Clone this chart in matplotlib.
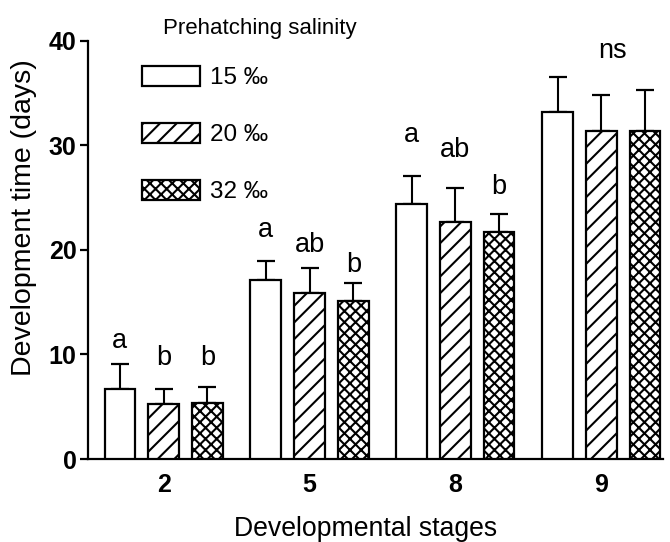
import matplotlib
matplotlib.use('Agg')
import matplotlib.pyplot as plt
import numpy as np

plt.rcParams['font.family'] = ['Liberation Sans', 'DejaVu Sans']
plt.rcParams['hatch.linewidth'] = 1.5

stages = ['2', '5', '8', '9']
salinities = ['15 ‰', '20 ‰', '32 ‰']

mean_15 = [6.7, 17.1, 24.4, 33.2]
mean_20 = [5.3, 15.9, 22.7, 31.4]
mean_32 = [5.35, 15.1, 21.7, 31.4]

se_15 = [2.4, 1.8, 2.7, 3.3]
se_20 = [1.4, 2.4, 3.2, 3.4]
se_32 = [1.55, 1.7, 1.7, 3.9]

letters_15 = ['a', 'a', 'a', '']
letters_20 = ['b', 'ab', 'ab', 'ns']
letters_32 = ['b', 'b', 'b', '']
letter_y_15 = [10.6, 21.2, 30.3, 0]
letter_y_20 = [9.0, 19.8, 28.9, 38.3]
letter_y_32 = [9.0, 17.9, 25.3, 0]

means = [mean_15, mean_20, mean_32]
ses = [se_15, se_20, se_32]
letters = [letters_15, letters_20, letters_32]
letter_ys = [letter_y_15, letter_y_20, letter_y_32]
hatches = [None, '//', 'xxx']
offsets = [-0.30, 0.0, 0.30]
width = 0.21

fig = plt.figure(figsize=(6.7, 5.42), dpi=100)
ax = fig.add_axes([0.131, 0.153, 0.859, 0.772])

x = np.arange(len(stages))
handles = []
for i in range(3):
    xs = x + offsets[i]
    b = ax.bar(xs, means[i], width=width, color='white', edgecolor='black',
               linewidth=1.6, hatch=hatches[i], zorder=3, label=salinities[i])
    handles.append(b)
    ax.errorbar(xs, means[i], yerr=[np.zeros(len(stages)), ses[i]], fmt='none',
                ecolor='black', elinewidth=1.5, capsize=6.5, capthick=1.6, zorder=2)
    for j in range(len(stages)):
        if letters[i][j]:
            dx = 0.08 if letters[i][j] == 'ns' else 0.0
            ax.text(xs[j] + dx, letter_ys[i][j], letters[i][j], ha='center',
                    va='baseline', fontsize=19.5)

ax.set_xlim(-0.52, 3.425)
ax.set_ylim(0, 40)
ax.set_yticks([0, 10, 20, 30, 40])
ax.set_xticks(x)
ax.set_xticklabels(stages)
ax.spines['top'].set_visible(False)
ax.spines['right'].set_visible(False)
ax.spines['left'].set_linewidth(1.6)
ax.spines['bottom'].set_linewidth(1.6)
ax.tick_params(axis='y', length=6, width=1.6, labelsize=18, pad=2)
ax.tick_params(axis='x', length=0, labelsize=18, pad=10)
for lab in ax.get_xticklabels() + ax.get_yticklabels():
    lab.set_fontweight('bold')

ax.set_ylabel('Development time (days)', fontsize=20.5)
ax.yaxis.set_label_coords(-0.088, 0.577)
ax.set_xlabel('Developmental stages', fontsize=19.2)
ax.xaxis.set_label_coords(0.483, -0.135)
ax.xaxis.label.set_va('top')

leg = ax.legend(handles=handles, labels=salinities, loc='upper left',
                bbox_to_anchor=(0.095, 0.94), frameon=False, fontsize=17.5,
                handlelength=2.35, handleheight=0.9, handletextpad=0.42,
                labelspacing=1.38, borderpad=0, borderaxespad=0)
fig.text(0.243, 0.938, 'Prehatching salinity', fontsize=16, ha='left', va='baseline')

fig.savefig('out.png', dpi=100)
